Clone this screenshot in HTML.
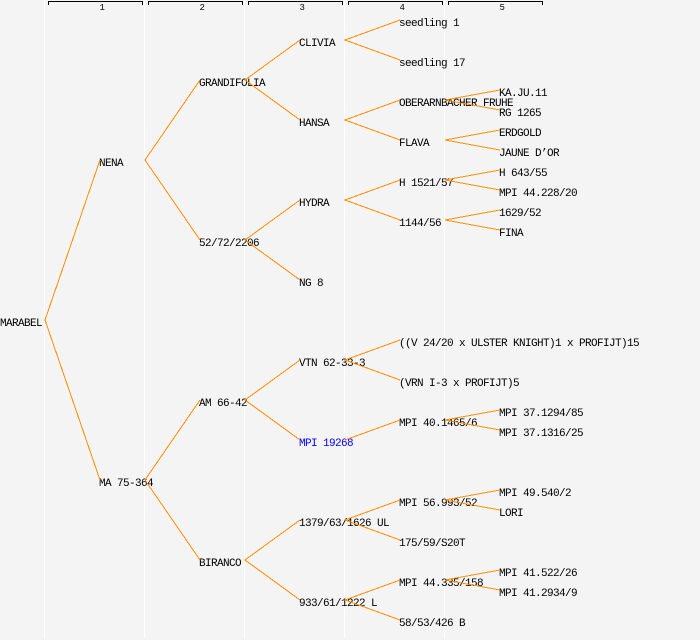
<!DOCTYPE html>
<html><head><meta charset="utf-8"><style>
html,body{margin:0;padding:0;background:#f4f4f4;}
svg{display:block;}
text{font-family:"Liberation Mono",monospace;font-size:11px;letter-spacing:-0.6px;fill:#000;}
.h{font-size:9px;letter-spacing:0;}
</style></head><body>
<svg width="700" height="640" viewBox="0 0 700 640" xmlns="http://www.w3.org/2000/svg">
<rect x="0" y="0" width="700" height="640" fill="#f4f4f4"/>
<g stroke="#ffffff" stroke-width="1">
<line x1="44.5" y1="0" x2="44.5" y2="638"/>
<line x1="144.5" y1="0" x2="144.5" y2="638"/>
<line x1="244.5" y1="0" x2="244.5" y2="638"/>
<line x1="344.5" y1="0" x2="344.5" y2="638"/>
<line x1="444.5" y1="0" x2="444.5" y2="638"/>
</g>
<g stroke="#000" stroke-width="1" fill="none">
<polyline points="48.5,5 48.5,1.5 142.5,1.5 142.5,5"/>
<polyline points="148.5,5 148.5,1.5 242.5,1.5 242.5,5"/>
<polyline points="248.5,5 248.5,1.5 342.5,1.5 342.5,5"/>
<polyline points="348.5,5 348.5,1.5 442.5,1.5 442.5,5"/>
<polyline points="448.5,5 448.5,1.5 542.5,1.5 542.5,5"/>
</g>
<text class="h" x="99.5" y="10">1</text>
<text class="h" x="199.5" y="10">2</text>
<text class="h" x="299.5" y="10">3</text>
<text class="h" x="399.5" y="10">4</text>
<text class="h" x="499.5" y="10">5</text>

<text x="0" y="326">MARABEL</text>
<text x="99" y="166">NENA</text>
<text x="99" y="486">MA 75-364</text>
<text x="199" y="86">GRANDIFOLIA</text>
<text x="199" y="246">52/72/2206</text>
<text x="199" y="406">AM 66-42</text>
<text x="199" y="566">BIRANCO</text>
<text x="299" y="46">CLIVIA</text>
<text x="299" y="126">HANSA</text>
<text x="299" y="206">HYDRA</text>
<text x="299" y="286">NG 8</text>
<text x="299" y="366">VTN 62-33-3</text>
<text x="299" y="446" style="fill:#0000ff">MPI 19268</text>
<text x="299" y="526">1379/63/1626 UL</text>
<text x="299" y="606">933/61/1222 L</text>
<text x="399" y="26">seedling 1</text>
<text x="399" y="66">seedling 17</text>
<text x="399" y="106">OBERARNBACHER FRUHE</text>
<text x="399" y="146">FLAVA</text>
<text x="399" y="186">H 1521/57</text>
<text x="399" y="226">1144/56</text>
<text x="399" y="346">((V 24/20 x ULSTER KNIGHT)1 x PROFIJT)15</text>
<text x="399" y="386">(VRN I-3 x PROFIJT)5</text>
<text x="399" y="426">MPI 40.1465/6</text>
<text x="399" y="506">MPI 56.993/52</text>
<text x="399" y="546">175/59/S20T</text>
<text x="399" y="586">MPI 44.335/158</text>
<text x="399" y="626">58/53/426 B</text>
<text x="499" y="96">KA.JU.11</text>
<text x="499" y="116">RG 1265</text>
<text x="499" y="136">ERDGOLD</text>
<text x="499" y="156">JAUNE D’OR</text>
<text x="499" y="176">H 643/55</text>
<text x="499" y="196">MPI 44.228/20</text>
<text x="499" y="216">1629/52</text>
<text x="499" y="236">FINA</text>
<text x="499" y="416">MPI 37.1294/85</text>
<text x="499" y="436">MPI 37.1316/25</text>
<text x="499" y="496">MPI 49.540/2</text>
<text x="499" y="516">LORI</text>
<text x="499" y="576">MPI 41.522/26</text>
<text x="499" y="596">MPI 41.2934/9</text>

<g stroke="#ff8c00" stroke-width="1" fill="none" shape-rendering="crispEdges">
<polyline points="100,160 45,320 100,480"/>
<polyline points="200,80 145,160 200,240"/>
<polyline points="200,400 145,480 200,560"/>
<polyline points="300,40 245,80 300,120"/>
<polyline points="300,200 245,240 300,280"/>
<polyline points="300,360 245,400 300,440"/>
<polyline points="300,520 245,560 300,600"/>
<polyline points="400,20 345,40 400,60"/>
<polyline points="400,100 345,120 400,140"/>
<polyline points="400,180 345,200 400,220"/>
<polyline points="400,340 345,360 400,380"/>
<polyline points="345,440 400,420"/>
<polyline points="400,500 345,520 400,540"/>
<polyline points="400,580 345,600 400,620"/>
<polyline points="500,90 445,100 500,110"/>
<polyline points="500,130 445,140 500,150"/>
<polyline points="500,170 445,180 500,190"/>
<polyline points="500,210 445,220 500,230"/>
<polyline points="500,410 445,420 500,430"/>
<polyline points="500,490 445,500 500,510"/>
<polyline points="500,570 445,580 500,590"/>
</g>
</svg>
</body></html>
